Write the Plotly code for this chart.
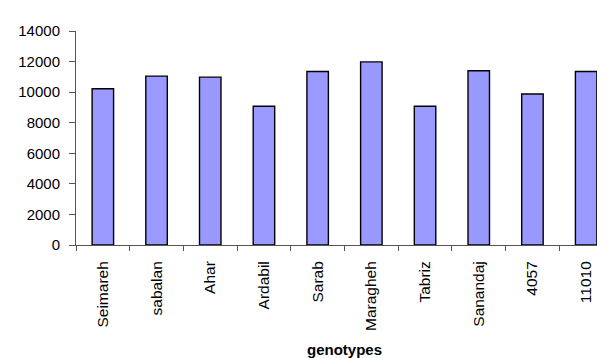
import plotly.graph_objects as go

genotypes = ["Seimareh", "sabalan", "Ahar", "Ardabil", "Sarab", "Maragheh",
             "Tabriz", "Sanandaj", "4057", "11010"]
values = [10220, 11050, 10980, 9080, 11350, 11980, 9080, 11400, 9880, 11350]
y_ticks = [0, 2000, 4000, 6000, 8000, 10000, 12000, 14000]
y_tick_labels = [str(v) for v in y_ticks]

FONT = "Liberation Sans, Arial, sans-serif"

fig = go.Figure(go.Bar(
    x=genotypes, y=values,
    marker=dict(color="#9999FF", line=dict(color="#000000", width=1.4)),
))

fig.update_layout(
    width=605, height=358,
    margin=dict(l=68, r=0, t=23, b=121),
    paper_bgcolor="white", plot_bgcolor="white",
    bargap=0.6,
    showlegend=False,
    font=dict(family=FONT, size=15, color="black"),
)
fig.update_xaxes(
    type="category",
    showline=True, linecolor="#555555", linewidth=1,
    ticks="outside", ticklen=5, tickcolor="#555555", tickson="boundaries",
    tickangle=-90, tickfont=dict(size=15.5),
    ticklabelstandoff=9,
    showgrid=False, automargin=False,
    title=dict(text="<b>genotypes</b>", font=dict(size=15), standoff=14),
)
fig.update_yaxes(
    range=[0, 14000], tickvals=y_ticks, ticktext=y_tick_labels,
    showline=True, linecolor="#555555", linewidth=1,
    ticks="outside", ticklen=6, tickcolor="#555555",
    tickfont=dict(size=15), ticklabelstandoff=6,
    showgrid=False, zeroline=False, automargin=False,
)

fig.write_html("out.html")
